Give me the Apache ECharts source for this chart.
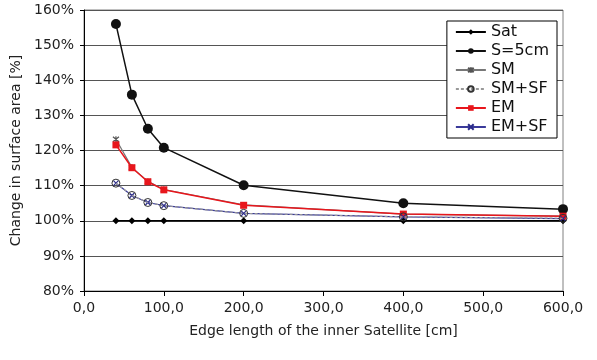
<!DOCTYPE html>
<html><head><meta charset="utf-8">
<script src="https://cdn.jsdelivr.net/npm/echarts@6/dist/echarts.min.js"></script>
<style>html,body{margin:0;padding:0;background:#fff}#c{width:597px;height:360px}</style>
</head><body><div id="c"></div>
<script>
const xVals = [40, 60, 80, 100, 200, 400, 600];
const sat   = [100, 100, 100, 100, 100, 100, 100];
const s5cm  = [156.0, 135.9, 126.2, 120.8, 110.1, 105.0, 103.3];
const sm    = [123.2, 115.2, 111.2, 108.9, 104.5, 101.9, 101.3];
const smsf  = [110.7, 107.2, 105.2, 104.3, 102.1, 101.1, 100.7];
const em    = [121.6, 115.1, 111.1, 108.8, 104.4, 101.9, 101.3];
const emsf  = [110.7, 107.2, 105.2, 104.3, 102.1, 101.1, 100.6];
const seriesNames = ['Sat', 'S=5cm', 'SM', 'SM+SF', 'EM', 'EM+SF'];
const xTitle = 'Edge length of the inner Satellite [cm]';
const yTitle = 'Change in surface area [%]';

const pair = arr => xVals.map((x, i) => [x, arr[i]]);
const font = 'DejaVu Sans';
const chart = echarts.init(document.getElementById('c'));
chart.setOption({
  animation: false,
  grid: { left: 84, right: 34, top: 10, bottom: 69, show: true, borderColor: '#808080', borderWidth: 1 },
  xAxis: {
    type: 'value', min: 0, max: 600, interval: 100,
    name: xTitle, nameLocation: 'middle', nameGap: 33,
    nameTextStyle: { fontFamily: font, fontSize: 14, color: '#222' },
    axisLine: { show: true, lineStyle: { color: '#000' } },
    axisTick: { show: true, length: 5, lineStyle: { color: '#000' } },
    axisLabel: { fontFamily: font, fontSize: 14, color: '#222', margin: 10,
      formatter: v => v.toFixed(1).replace('.', ',') },
    splitLine: { show: false }
  },
  yAxis: {
    type: 'value', min: 80, max: 160, interval: 10,
    name: yTitle, nameLocation: 'middle', nameGap: 58, nameRotate: 90,
    nameTextStyle: { fontFamily: font, fontSize: 14, color: '#222' },
    axisLine: { show: true, lineStyle: { color: '#000' } },
    axisTick: { show: true, length: 4, lineStyle: { color: '#000' } },
    axisLabel: { fontFamily: font, fontSize: 14, color: '#222', margin: 10, formatter: '{value}%' },
    splitLine: { show: true, lineStyle: { color: '#555', width: 1 } }
  },
  legend: {
    orient: 'vertical', right: 40, top: 21,
    backgroundColor: '#fff', borderColor: '#000', borderWidth: 1,
    padding: [3, 8, 3, 8], itemGap: 3, itemWidth: 30, itemHeight: 7,
    textStyle: { fontFamily: font, fontSize: 16, color: '#111' },
    data: seriesNames
  },
  series: [
    { name: seriesNames[0], type: 'line', data: pair(sat), symbol: 'diamond', symbolSize: 7,
      lineStyle: { color: '#000', width: 1.5 }, itemStyle: { color: '#000' }, z: 2 },
    { name: seriesNames[1], type: 'line', data: pair(s5cm), symbol: 'circle', symbolSize: 10,
      lineStyle: { color: '#111', width: 1.5 }, itemStyle: { color: '#111' }, z: 3 },
    { name: seriesNames[2], type: 'line', data: pair(sm), symbol: 'path://M-1,-1L1,1M1,-1L-1,1M0,-1.2L0,1.2', symbolSize: 6,
      lineStyle: { color: '#777', width: 1.2 }, itemStyle: { color: 'none', borderColor: '#555', borderWidth: 1.2 }, z: 2 },
    { name: seriesNames[3], type: 'line', data: pair(smsf), symbol: 'circle', symbolSize: 8,
      lineStyle: { color: '#999', width: 1.2, type: [3, 2] }, itemStyle: { color: 'rgba(255,255,255,0)', borderColor: '#333', borderWidth: 1 }, z: 5 },
    { name: seriesNames[4], type: 'line', data: pair(em), symbol: 'rect', symbolSize: 7,
      lineStyle: { color: '#e8161c', width: 1.5 }, itemStyle: { color: '#e8161c' }, z: 4 },
    { name: seriesNames[5], type: 'line', data: pair(emsf), symbol: 'path://M-1,-1L1,1M1,-1L-1,1', symbolSize: 5,
      lineStyle: { color: '#3a3a9a', width: 1.2 }, itemStyle: { color: 'none', borderColor: '#2a2a8a', borderWidth: 1.2 }, z: 4 }
  ]
});
</script></body></html>
